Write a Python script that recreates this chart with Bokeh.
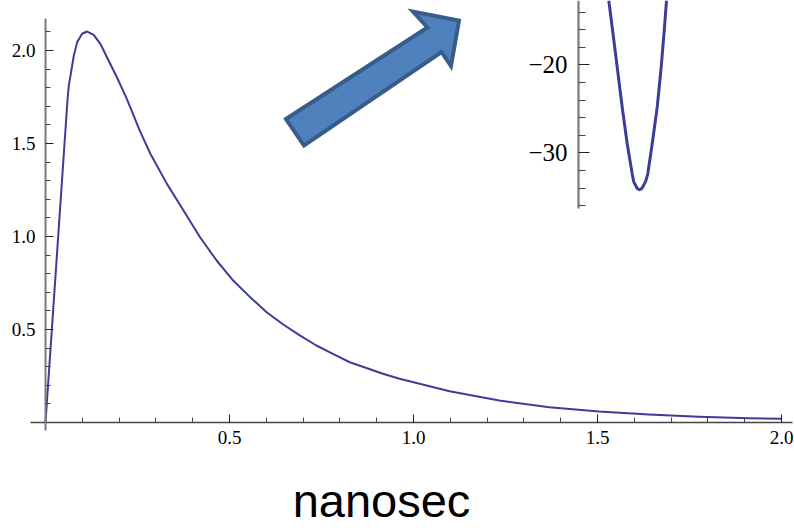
from bokeh.plotting import figure
from bokeh.models import Range1d, LinearAxis, FixedTicker, Label
from bokeh.embed import file_html
from bokeh.resources import INLINE

# ---------------- data ----------------
t_ns = [0.000, 0.010, 0.020, 0.030, 0.040, 0.050, 0.060, 0.0633, 0.068, 0.077,
        0.086, 0.0995, 0.113, 0.131, 0.149, 0.167, 0.194, 0.221, 0.257, 0.285,
        0.330, 0.375, 0.420, 0.465, 0.510, 0.556, 0.601, 0.646, 0.691, 0.736,
        0.781, 0.827, 0.917, 0.962, 1.098, 1.233, 1.369, 1.504, 1.640, 1.775,
        1.911, 2.000]
signal = [0.000, 0.290, 0.580, 0.870, 1.160, 1.450, 1.740, 1.812, 1.866, 1.973,
          2.045, 2.090, 2.102, 2.084, 2.036, 1.964, 1.856, 1.740, 1.565, 1.445,
          1.283, 1.140, 0.996, 0.871, 0.763, 0.674, 0.593, 0.527, 0.468, 0.414,
          0.369, 0.324, 0.262, 0.235, 0.168, 0.118, 0.082, 0.059, 0.043, 0.031,
          0.023, 0.020]

inset_x = [0.303, 0.337, 0.387, 0.437, 0.487, 0.537, 0.553, 0.587, 0.610,
           0.633, 0.670, 0.693, 0.737, 0.787, 0.827, 0.860, 0.880]
inset_y = [-12.69, -15.73, -20.27, -24.82, -28.98, -32.39, -33.30, -34.06,
           -34.20, -34.06, -33.30, -32.39, -28.98, -24.82, -20.27, -15.73,
           -12.69]

x_ticks = [0.5, 1.0, 1.5, 2.0]
x_tick_labels = ["0.5", "1.0", "1.5", "2.0"]
x_minor = [0.1, 0.2, 0.3, 0.4, 0.6, 0.7, 0.8, 0.9, 1.1, 1.2, 1.3, 1.4,
           1.6, 1.7, 1.8, 1.9]
y_ticks = [0.5, 1.0, 1.5, 2.0]
y_tick_labels = ["0.5", "1.0", "1.5", "2.0"]
y_minor = [0.1, 0.2, 0.3, 0.4, 0.6, 0.7, 0.8, 0.9, 1.1, 1.2, 1.3, 1.4,
           1.6, 1.7, 1.8, 1.9, 2.1]
inset_ticks = [-30, -20]
inset_tick_labels = ["\u221230", "\u221220"]
inset_minor = [-36, -34, -32, -28, -26, -24, -22, -18, -16, -14]
x_label = "nanosec"

# ---------------- layout ----------------
W, H = 794, 528
X0, XS = 45.0, 368.0      # canvas px of t=0, px per ns
Y0, YS = 422.0, 186.0     # canvas px of y=0, px per unit
IX0, IXS = 578.0, 100.0   # inset: canvas px of u=0, px per unit
IY0, IYS = 64.3, 8.8      # inset: canvas px of v=-20, px per unit


def dx(px):  # canvas px -> main data x
    return (px - X0) / XS


def dy(py):  # canvas px -> main data y
    return (Y0 - py) / YS


p = figure(width=W, height=H, output_backend="svg", toolbar_location=None,
           x_range=Range1d(-X0 / XS, (W - X0) / XS),
           y_range=Range1d((Y0 - H) / YS, Y0 / YS),
           x_axis_location=None, y_axis_location=None,
           min_border=0, outline_line_color=None,
           background_fill_color="white", border_fill_color="white")
p.grid.visible = False

p.extra_x_ranges = {"inset": Range1d(-IX0 / IXS, (W - IX0) / IXS)}
p.extra_y_ranges = {"inset": Range1d(-20 + (IY0 - H) / IYS, -20 + IY0 / IYS)}

FONT = "Liberation Serif"

xaxis = LinearAxis(fixed_location=0, bounds=(-0.041, 2.03),
                   ticker=FixedTicker(ticks=x_ticks, minor_ticks=x_minor),
                   major_label_overrides=dict(zip(x_ticks, x_tick_labels)),
                   major_tick_in=8, major_tick_out=0,
                   minor_tick_in=5, minor_tick_out=0,
                   major_label_standoff=8,
                   major_label_text_font=FONT,
                   major_label_text_font_size="19px",
                   major_label_text_color="black",
                   axis_line_color="#444444", axis_line_width=1.3,
                   major_tick_line_color="#222222", minor_tick_line_color="#444444")
p.add_layout(xaxis, "below")

yaxis = LinearAxis(fixed_location=0, bounds=(-0.043, 2.17),
                   ticker=FixedTicker(ticks=y_ticks, minor_ticks=y_minor),
                   major_label_overrides=dict(zip(y_ticks, y_tick_labels)),
                   major_tick_in=8, major_tick_out=0,
                   minor_tick_in=5, minor_tick_out=0,
                   major_label_standoff=10,
                   major_label_text_font=FONT,
                   major_label_text_font_size="19px",
                   major_label_text_color="black",
                   axis_line_color="#7a7a7a", axis_line_width=2,
                   major_tick_line_color="#222222", minor_tick_line_color="#444444")
p.add_layout(yaxis, "left")

iaxis = LinearAxis(x_range_name="inset", y_range_name="inset",
                   fixed_location=0, bounds=(-36.3, -10),
                   ticker=FixedTicker(ticks=inset_ticks, minor_ticks=inset_minor),
                   major_label_overrides=dict(zip(inset_ticks, inset_tick_labels)),
                   major_tick_in=11, major_tick_out=0,
                   minor_tick_in=7, minor_tick_out=0,
                   major_label_standoff=11,
                   major_label_text_font=FONT,
                   major_label_text_font_size="25px",
                   major_label_text_color="black",
                   axis_line_color="#7a7a7a", axis_line_width=2.2,
                   major_tick_line_color="#222222", minor_tick_line_color="#444444")
p.add_layout(iaxis, "left")

# main curve
p.line(t_ns, signal, line_color="#3d3d99", line_width=2, line_join="round")

# inset curve
p.line(inset_x, inset_y, x_range_name="inset", y_range_name="inset",
       line_color="#3d3d99", line_width=3, line_join="round")

# block arrow (decoration), pixel outline converted to data units
arrow_px = [(285.5, 118.5), (427, 27), (412.5, 11), (458.5, 20),
            (450.5, 65.5), (441, 51.5), (303.5, 145)]
p.patch([dx(a) for a, b in arrow_px], [dy(b) for a, b in arrow_px],
        fill_color="#4f81bd", line_color="#385d8a", line_width=4,
        line_join="miter")

p.add_layout(Label(x=dx(381), y=dy(500), text=x_label,
                   text_font="Liberation Sans", text_font_size="47px",
                   text_align="center", text_baseline="alphabetic",
                   text_color="black"))

open("out.html", "w").write(file_html(p, INLINE))
